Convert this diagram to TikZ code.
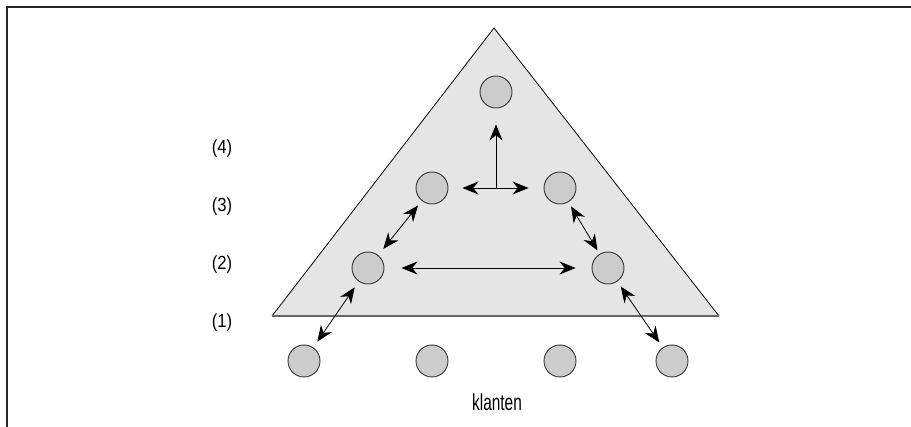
\documentclass[tikz,border=0pt]{standalone}
\usepackage{fontspec}
\setmainfont{Liberation Sans}
\newfontfamily\lblfont[FakeStretch=0.88]{Liberation Sans}
\newfontfamily\klfont[FakeStretch=0.67]{Liberation Sans}
\usetikzlibrary{arrows.meta}
\definecolor{tri}{HTML}{E5E5E5}
\definecolor{disc}{HTML}{CCCCCC}
\begin{document}
\begin{tikzpicture}[x=1pt,y=-1pt,
  station/.style={circle,draw=black!80,fill=disc,line width=0.9pt,minimum size=32pt,inner sep=0pt},
  link/.style={{Stealth[length=16pt,width=13pt]}-{Stealth[length=16pt,width=13pt]},line width=0.8pt},
  uplink/.style={-{Stealth[length=16pt,width=13pt]},line width=0.8pt},
  level/.style={font=\lblfont\fontsize{19}{19}\selectfont,inner sep=0pt},
  caption/.style={font=\klfont\fontsize{23}{23}\selectfont,inner sep=0pt},
]
\useasboundingbox (0,0) rectangle (911,427);
% frame (left and top only)
\draw[line width=1.5pt, black!85] (7,427) -- (7,7) -- (911,7);
% triangle
\fill[tri] (494,28) -- (272,316) -- (719,316) -- cycle;
\draw[line width=0.8pt] (272,316) -- (494,28) -- (719,316);
\draw[line width=2pt, black!60] (272,316) -- (719,316);
% stations
\node[station] (top) at (496,92) {};
\node[station] (l3l) at (432,188) {};
\node[station] (l3r) at (560,188) {};
\node[station] (l2l) at (368,268) {};
\node[station] (l2r) at (608,268) {};
\node[station] (k1) at (304,361) {};
\node[station] (k2) at (432,361) {};
\node[station] (k3) at (560,361) {};
\node[station] (k4) at (672,361) {};
% level labels
\node[level] (n4) at (222,149) {(4)};
\node[level] (n3) at (222,207) {(3)};
\node[level] (n2) at (222,265) {(2)};
\node[level] (n1) at (222,323) {(1)};
\node[caption] (kl) at (497,402) {klanten};
% connectors
\draw[link, shorten <=14pt, shorten >=15pt] (l3l) -- (l3r);
\coordinate (hub) at (496,188);
\draw[uplink, shorten >=16pt] (hub) -- (top);
\draw[link, shorten <=17pt, shorten >=16pt] (l2l) -- (l2r);
\draw[link, shorten <=6pt, shorten >=8pt] (l3l) -- (l2l);
\draw[link, shorten <=5pt, shorten >=4pt] (l3r) -- (l2r);
\draw[link, shorten <=7pt, shorten >=7pt] (l2l) -- (k1);
\draw[link, shorten <=6pt, shorten >=6pt] (l2r) -- (k4);
\end{tikzpicture}
\end{document}
